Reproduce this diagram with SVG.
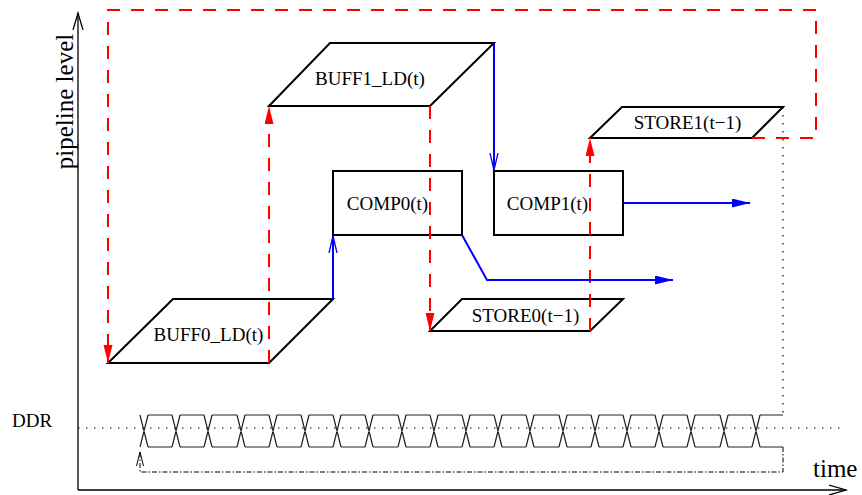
<svg xmlns="http://www.w3.org/2000/svg" width="862" height="495" viewBox="0 0 862 495">
<style>
.node{fill:none;stroke:#000;stroke-width:2;stroke-linejoin:miter}
.lbl{font-family:"Liberation Serif","Times New Roman",serif;font-size:19px;fill:#000}
.big{font-family:"Liberation Serif","Times New Roman",serif;font-size:25px;fill:#000}
.red{fill:none;stroke:#ff0000;stroke-width:2;stroke-dasharray:13 11}
.blue{fill:none;stroke:#0000ff;stroke-width:2}
.axis{fill:none;stroke:#000;stroke-width:1.3}
.dot{fill:none;stroke:#000;stroke-width:1.2;stroke-dasharray:1.5 6.5}
.dashdot{fill:none;stroke:#000;stroke-width:1;stroke-dasharray:5 2 1.5 2}
.wave{fill:none;stroke:#222;stroke-width:1.2}
</style>
<defs>
<marker id="redTri" markerUnits="userSpaceOnUse" markerWidth="18" markerHeight="10" refX="18" refY="4.5" orient="auto">
<path d="M0,0 L18,4.5 L0,9 z" fill="#ff0000"/>
</marker>
<marker id="blueTri" markerUnits="userSpaceOnUse" markerWidth="18" markerHeight="10" refX="18" refY="4.5" orient="auto">
<path d="M0,0 L18,4.5 L0,9 z" fill="#0000ff"/>
</marker>
<marker id="blueOpen" markerUnits="userSpaceOnUse" markerWidth="20" markerHeight="12" refX="17" refY="5" orient="auto">
<path d="M0,1 L17,5 L0,9" fill="none" stroke="#0000ff" stroke-width="1.3"/>
</marker>
<marker id="axisOpen" markerUnits="userSpaceOnUse" markerWidth="20" markerHeight="14" refX="17" refY="6" orient="auto">
<path d="M0,1 L17,6 L0,11" fill="none" stroke="#000" stroke-width="1.3"/>
</marker>
<marker id="smallOpen" markerUnits="userSpaceOnUse" markerWidth="16" markerHeight="10" refX="14" refY="4" orient="auto">
<path d="M0,0.5 L14,4 L0,7.5" fill="none" stroke="#000" stroke-width="1"/>
</marker>
</defs>

<g id="axes">
<path class="axis" d="M78,490 V13" marker-end="url(#axisOpen)"/>
<path class="axis" d="M78,490 H846" marker-end="url(#axisOpen)"/>
<text class="big" transform="translate(73,101.5) rotate(-90)" text-anchor="middle">pipeline level</text>
<text class="big" x="813" y="477">time</text>
</g>

<g id="ddr">
<text class="lbl" x="12" y="427">DDR</text>
<path class="dot" d="M78,428 H842"/>
<path class="wave" d="M140,415 L148,447 M148,415 L140,447
M148,415 H172 M148,447 H172 M172,415 L180,447 M180,415 L172,447
M180,415 H204 M180,447 H204 M204,415 L212,447 M212,415 L204,447
M212,415 H237 M212,447 H237 M237,415 L245,447 M245,415 L237,447
M245,415 H269 M245,447 H269 M269,415 L277,447 M277,415 L269,447
M277,415 H301 M277,447 H301 M301,415 L309,447 M309,415 L301,447
M309,415 H333 M309,447 H333 M333,415 L341,447 M341,415 L333,447
M341,415 H365 M341,447 H365 M365,415 L373,447 M373,415 L365,447
M373,415 H398 M373,447 H398 M398,415 L406,447 M406,415 L398,447
M406,415 H430 M406,447 H430 M430,415 L438,447 M438,415 L430,447
M438,415 H462 M438,447 H462 M462,415 L470,447 M470,415 L462,447
M470,415 H494 M470,447 H494 M494,415 L502,447 M502,415 L494,447
M502,415 H526 M502,447 H526 M526,415 L534,447 M534,415 L526,447
M534,415 H559 M534,447 H559 M559,415 L567,447 M567,415 L559,447
M567,415 H591 M567,447 H591 M591,415 L599,447 M599,415 L591,447
M599,415 H623 M599,447 H623 M623,415 L631,447 M631,415 L623,447
M631,415 H655 M631,447 H655 M655,415 L663,447 M663,415 L655,447
M663,415 H687 M663,447 H687 M687,415 L695,447 M695,415 L687,447
M695,415 H720 M695,447 H720 M720,415 L728,447 M728,415 L720,447
M728,415 H752 M728,447 H752 M752,415 L760,447 M760,415 L752,447
M760,415 H783 M760,447 H783"/>
<path class="dashdot" d="M783,447 V472 H140 V452" marker-end="url(#smallOpen)"/>
<path class="dot" d="M783,107 V415"/>
</g>

<g id="BUFF0_LD">
<polygon class="node" points="108,363 173,299 333,299 269,363"/>
<text class="lbl" x="208.5" y="341" text-anchor="middle">BUFF0_LD(t)</text>
</g>
<g id="BUFF1_LD">
<polygon class="node" points="269,106 330,43 494,43 430,106"/>
<text class="lbl" x="370" y="85" text-anchor="middle">BUFF1_LD(t)</text>
</g>
<g id="COMP0">
<rect class="node" x="333" y="171" width="129" height="64"/>
<text class="lbl" x="387.5" y="210" text-anchor="middle">COMP0(t)</text>
</g>
<g id="COMP1">
<rect class="node" x="494" y="171" width="129" height="64"/>
<text class="lbl" x="547.5" y="210" text-anchor="middle">COMP1(t)</text>
</g>
<g id="STORE0">
<polygon class="node" points="430,331 462,299 623,299 590,331"/>
<text class="lbl" x="525.5" y="322" text-anchor="middle">STORE0(t−1)</text>
</g>
<g id="STORE1">
<polygon class="node" points="590,138 622,107 783,107 752,138"/>
<text class="lbl" x="687.5" y="129" text-anchor="middle">STORE1(t−1)</text>
</g>

<g id="connectors">
<path class="red" d="M752,138 H816 V10 H108 V363" marker-end="url(#redTri)"/>
<path class="red" d="M269,363 V106" marker-end="url(#redTri)"/>
<path class="red" d="M430,106 V331" marker-end="url(#redTri)"/>
<path class="red" d="M590,331 V138" marker-end="url(#redTri)"/>
<path class="blue" d="M333,299 V236" marker-end="url(#blueOpen)"/>
<path class="blue" d="M494,43 V170" marker-end="url(#blueOpen)"/>
<path class="blue" d="M623,203 H750" marker-end="url(#blueTri)"/>
<path class="blue" d="M462,235 L487,280 H673" marker-end="url(#blueTri)"/>
</g>
</svg>
